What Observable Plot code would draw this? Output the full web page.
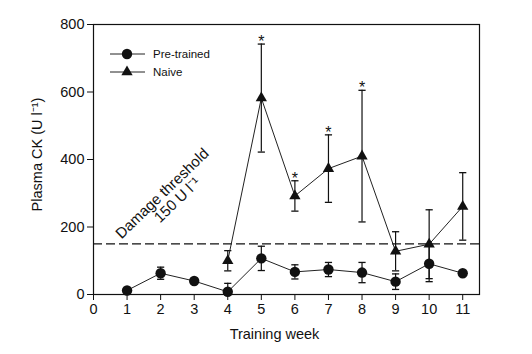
<!DOCTYPE html>
<html>
<head>
<meta charset="utf-8">
<script src="https://cdn.jsdelivr.net/npm/d3@7"></script>
<script src="https://cdn.jsdelivr.net/npm/@observablehq/plot@0.6"></script>
<style>
  html, body { margin: 0; padding: 0; background: #fff; }
  #chart { position: relative; width: 532px; height: 354px; }
</style>
</head>
<body>
<div id="chart"></div>
<script>
// ---- Data ----
const pretrainedWeeks = [1, 2, 3, 4, 5, 6, 7, 8, 9, 10, 11];
const pretrainedMean  = [12, 63, 40, 8, 107, 67, 74, 65, 38, 91, 63];
const pretrainedErr   = [0, 18, 0, 25, 36, 21, 21, 30, 23, 53, 0];

const naiveWeeks = [4, 5, 6, 7, 8, 9, 10, 11];
const naiveMean  = [100, 582, 292, 373, 410, 128, 149, 261];
const naiveErr   = [30, 160, 45, 100, 195, 58, 102, 100];
const naiveSignificant = [false, true, true, true, true, false, false, false];

const threshold = 150;
const xTicks = [0, 1, 2, 3, 4, 5, 6, 7, 8, 9, 10, 11];
const yTicks = [0, 200, 400, 600, 800];
const seriesNames = ["Pre-trained", "Naive"];
const xLabel = "Training week";
const yLabel = "Plasma CK (U l\u207B\u00B9)";
const annotationLines = ["Damage threshold", "150 U l\u207B\u00B9"];
const annotationX = [2.05, 2.5];
const annotationY = [299, 280];

// ---- Tables ----
const pre = pretrainedWeeks.map((w, i) => ({week: w, mean: pretrainedMean[i], err: pretrainedErr[i],
  lo: Math.max(0, pretrainedMean[i] - pretrainedErr[i]), hi: pretrainedMean[i] + pretrainedErr[i]}));
const naive = naiveWeeks.map((w, i) => ({week: w, mean: naiveMean[i], err: naiveErr[i],
  lo: Math.max(0, naiveMean[i] - naiveErr[i]), hi: naiveMean[i] + naiveErr[i], sig: naiveSignificant[i]}));
const annotations = annotationLines.map((t, i) => ({text: t, x: annotationX[i], y: annotationY[i]}));

const capSymbol = { draw(ctx) { ctx.moveTo(-3.6, 0); ctx.lineTo(3.6, 0); } };
const font = "'Liberation Sans', Arial, Helvetica, sans-serif";

const preBars = pre.filter(d => d.err > 0);
const naiveBars = naive.filter(d => d.err > 0);

const plot = Plot.plot({
  width: 532,
  height: 354,
  marginLeft: 93,
  marginRight: 53,
  marginTop: 24,
  marginBottom: 60,
  style: { fontFamily: font, fontSize: "14.5px", color: "#111", background: "#fff" },
  x: { domain: [0, 11.5] },
  y: { domain: [0, 800] },
  marks: [
    Plot.axisX({ticks: xTicks, tickSize: 6, tickPadding: 3, fontSize: 14.5, label: null}),
    Plot.axisY({ticks: yTicks, tickSize: 6, tickPadding: 3, fontSize: 14.5, label: null}),
    Plot.text([xLabel], {text: d => d, frameAnchor: "bottom", textAnchor: "middle", dx: -12, dy: 40, lineAnchor: "middle", fontSize: 14.5, fill: "#111"}),
    Plot.text([yLabel], {text: d => d, frameAnchor: "left", textAnchor: "middle", rotate: -90, dx: -56, dy: -5, lineAnchor: "middle", fontSize: 14.5, fill: "#111"}),
    Plot.ruleY([threshold], {stroke: "#111", strokeWidth: 1.1, strokeDasharray: "9,4"}),
    Plot.text(annotations, {x: "x", y: "y", text: "text", rotate: -44, fontSize: 15, fill: "#111"}),
    // error bars
    Plot.ruleX(preBars, {x: "week", y1: "lo", y2: "hi", stroke: "#111", strokeWidth: 1.2}),
    Plot.dot(preBars, {x: "week", y: "hi", symbol: capSymbol, stroke: "#111", fill: "none", strokeWidth: 1.3}),
    Plot.dot(preBars.filter(d => d.mean - d.err > 0), {x: "week", y: "lo", symbol: capSymbol, stroke: "#111", fill: "none", strokeWidth: 1.3}),
    Plot.ruleX(naiveBars, {x: "week", y1: "lo", y2: "hi", stroke: "#111", strokeWidth: 1.2}),
    Plot.dot(naiveBars, {x: "week", y: "hi", symbol: capSymbol, stroke: "#111", fill: "none", strokeWidth: 1.3}),
    Plot.dot(naiveBars, {x: "week", y: "lo", symbol: capSymbol, stroke: "#111", fill: "none", strokeWidth: 1.3}),
    // lines
    Plot.line(pre, {x: "week", y: "mean", stroke: "#222", strokeWidth: 1}),
    Plot.line(naive, {x: "week", y: "mean", stroke: "#222", strokeWidth: 1}),
    // markers
    Plot.dot(pre, {x: "week", y: "mean", symbol: "circle", r: 5.2, fill: "#111", stroke: "none"}),
    Plot.dot(naive, {x: "week", y: "mean", symbol: "triangle", r: 4.2, fill: "#111", stroke: "none"}),
    // significance stars
    Plot.text(naive.filter(d => d.sig), {x: "week", y: "hi", text: () => "*", lineAnchor: "bottom", dy: 3, fontSize: 16, fill: "#111"}),
    Plot.frame({stroke: "#111", strokeWidth: 1.2})
  ]
});

document.getElementById("chart").appendChild(plot);

// ---- Legend (inside the frame, top-left) ----
const svg = d3.select(plot);
const lg = svg.append("g").attr("font-family", font).attr("font-size", 11.5)
  .attr("fill", "#111").attr("text-anchor", "start");
const rows = [
  {name: seriesNames[0], sym: d3.symbolCircle, size: Math.PI * 5.2 * 5.2, y: 54},
  {name: seriesNames[1], sym: d3.symbolTriangle, size: Math.PI * 4.2 * 4.2, y: 72}
];
rows.forEach(r => {
  lg.append("line").attr("x1", 110).attr("x2", 145).attr("y1", r.y).attr("y2", r.y)
    .attr("stroke", "#222").attr("stroke-width", 1);
  lg.append("path").attr("d", d3.symbol(r.sym, r.size)()).attr("transform", `translate(127,${r.y})`).attr("fill", "#111");
  lg.append("text").attr("x", 153).attr("y", r.y).attr("dy", "0.35em").attr("text-anchor", "start").text(r.name);
});
</script>
</body>
</html>
